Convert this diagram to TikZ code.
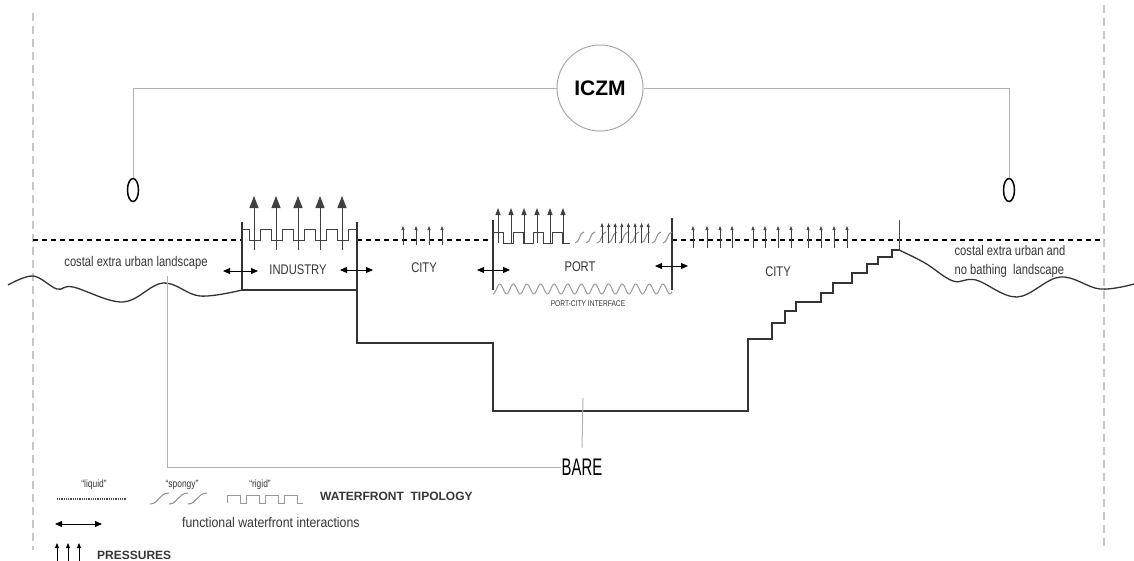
\documentclass[tikz,border=0pt]{standalone}
\usepackage{fontspec}
\setmainfont{Liberation Sans}
\newfontfamily\nrw{Liberation Sans}[FakeStretch=0.8]
\newfontfamily\nrwb{Liberation Sans}[FakeStretch=0.88]
\newfontfamily\barefont{Liberation Sans}[FakeStretch=0.62]
\usetikzlibrary{arrows.meta,shapes.geometric}
\definecolor{txt}{HTML}{363636}
\begin{document}
\begin{tikzpicture}[x=1pt,y=-1pt,
  guide/.style={draw=black!30, line width=1pt},
  frame/.style={draw=black!80, line width=1.3pt},
  vdash/.style={draw=black!22, line width=1.5pt, dash pattern=on 8pt off 5pt},
  liquid/.style={draw=black, line width=1.5pt, dash pattern=on 5pt off 4pt},
  lbl/.style={font=\nrw\fontsize{14}{19}\selectfont, text=txt, inner sep=0pt},
  dbl/.style={{Triangle[length=7pt,width=6pt]}-{Triangle[length=7pt,width=6pt]}, line width=1pt},
  bigp/.style={-{Triangle[length=12pt,width=9pt]}, line width=1pt, draw=black!75},
  midp/.style={-{Triangle[length=7pt,width=5pt]}, line width=0.9pt, draw=black!75},
  smallp/.style={-{Triangle[length=4pt,width=3pt]}, line width=0.7pt, draw=black!75},
  rigid/.style={draw=black!75, line width=1pt},
  spongy/.style={draw=black!45, line width=1pt},
]
\useasboundingbox (0,0) rectangle (1134,560);
% side dashed guides
\draw[vdash] (33,13) -- (33,550);
\draw[vdash] (1104,5) -- (1104,548);

% ICZM
\node[circle, draw=black!35, line width=1pt, minimum size=86pt, inner sep=0pt,
      font=\bfseries\fontsize{21}{24}\selectfont] (iczm) at (600,88) {ICZM};
\node[ellipse, draw=black, line width=1.5pt, minimum width=11pt, minimum height=23pt, inner sep=0pt] (ol) at (133,190) {};
\node[ellipse, draw=black, line width=1.5pt, minimum width=11pt, minimum height=23pt, inner sep=0pt] (or) at (1009,190) {};
\draw[guide] (ol.north) |- (iczm.west);
\draw[guide] (or.north) |- (iczm.east);

% liquid (dotted) waterfront
\draw[liquid] (33,240) -- (242,240);
\draw[liquid] (357,240) -- (493,240);
\draw[liquid] (672,240) -- (1104,240);

% left sea
\draw[frame] plot[smooth, tension=0.6] coordinates {(8,285) (33,276) (57,289) (73,287) (123,302) (163,283) (200,296) (242,290)};
% industry block and bare profile
\draw[frame] (242,290) -- (357,290);
\draw[frame] (242,222) -- (242,290);
\draw[frame] (357,222) -- (357,343) -- (493,343) -- (493,411) -- (748,411) -- (748,339)
  -- (772,339) -- (772,323) -- (785,323) -- (785,311) -- (796,311) -- (796,302)
  -- (821,302) -- (821,293) -- (833,293) -- (833,283) -- (852,283) -- (852,273)
  -- (867,273) -- (867,264) -- (878,264) -- (878,257) -- (892,257) -- (892,250) -- (899,250);
\draw[frame] plot[smooth, tension=0.6] coordinates {(899,250) (925,263) (953,281) (976,280) (1017,297) (1060,277) (1100,289) (1134,284)};
\draw[draw=black!70, line width=1pt] (899,220) -- (899,250);

% industry rigid waterfront
\draw[rigid] (242,229)
  \foreach \k in {0,...,4} { -- ({249+22*\k},229) -- ({249+22*\k},240) -- ({260+22*\k},240) -- ({260+22*\k},229) }
  -- (357,229);
\foreach \x in {254,276,298,320,342} \draw[bigp] (\x,250) -- (\x,196);

% port block
\draw[frame] (493,220) -- (493,290);
\draw[frame] (672,218) -- (672,290);
\draw[rigid] (493,232) -- (503,232) -- (503,243) -- (513,243) -- (513,232) -- (523,232) -- (523,243)
  -- (533,243) -- (533,232) -- (543,232) -- (543,243) -- (552,243) -- (552,232) -- (562,232) -- (562,243) -- (570,243);
\foreach \x in {498,511,524,537,550,563} \draw[midp] (\x,243) -- (\x,208);
\foreach \x in {575,586,...,664} \draw[spongy] (\x,243) .. controls ({\x+5},243) and ({\x+4},232) .. ({\x+9},232);
\foreach \x in {602,608.6,...,649} \draw[smallp] (\x,243) -- (\x,223);
\draw[draw=black!40, line width=1pt] plot[domain=493:672, samples=220] (\x,{289+5*cos((\x-493)*26.47)});

% city pressures
\foreach \x in {403,416,429,442} \draw[smallp] (\x,245) -- (\x,226);
\foreach \x in {693,707,720,732,753,765,778,791,808,821,834,847} \draw[smallp] (\x,248) -- (\x,226);

% labels
\node[lbl] (lland) at (136,263) {costal extra urban landscape};
\node[lbl] (ind) at (298,270) {INDUSTRY};
\node[lbl] (city1) at (424,268) {CITY};
\node[lbl] (port) at (580,267) {PORT};
\node[lbl] (city2) at (778,272) {CITY};
\node[lbl, align=left] (rland) at (1010,261) {costal extra urban and\\no bathing\ \ landscape};
\node[font=\nrw\fontsize{8.3}{9}\selectfont, text=txt, inner sep=0pt] (pci) at (588,304) {PORT-CITY INTERFACE};

% functional interactions
\draw[dbl] (223,271) -- (258,271);
\draw[dbl] (340,270) -- (373,270);
\draw[dbl] (477,270) -- (510,270);
\draw[dbl] (655,266) -- (688,266);

% BARE
\node[font=\barefont\fontsize{24}{26}\selectfont, inner sep=1pt] (bare) at (582,467) {BARE};
\coordinate (lsea) at (167,276);
\coordinate (bottom) at (583,398);
\draw[guide] (bare.west) -| (lsea);
\draw[guide] (bare.north) ++(0,-10) -- (bottom);

% legend
\node[font=\nrw\fontsize{10.5}{12}\selectfont, text=txt, inner sep=0pt] (lq) at (94,485) {“liquid”};
\node[font=\nrw\fontsize{10.5}{12}\selectfont, text=txt, inner sep=0pt] (sp) at (182,485) {“spongy”};
\node[font=\nrw\fontsize{10.5}{12}\selectfont, text=txt, inner sep=0pt] (rg) at (260,485) {“rigid”};
\draw[draw=black!70, line width=1.3pt, dash pattern=on 1pt off 0.8pt] (57,499) -- (127,499);
\foreach \x in {150,169,188} \draw[spongy] (\x,504) .. controls ({\x+9},504) and ({\x+9},493) .. ({\x+19},493);
\draw[draw=black!40, line width=1pt] (227,503) -- (227,495) -- (240,495) -- (240,503) -- (246,503) -- (246,495)
  -- (259,495) -- (259,503) -- (265,503) -- (265,495) -- (278,495) -- (278,503) -- (284,503) -- (284,495) -- (297,495) -- (297,503) -- (303,503);
\node[font=\bfseries\fontsize{12}{14}\selectfont, text=txt, anchor=west, inner sep=0pt] (wt) at (320,496) {WATERFRONT\ \ TIPOLOGY};
\draw[dbl] (55,524) -- (102,524);
\node[font=\nrwb\fontsize{14}{16}\selectfont, text=txt, anchor=west, inner sep=0pt] (fwi) at (182,522) {functional waterfront interactions};
\foreach \x in {57,68,79} \draw[-{Triangle[length=5pt,width=4pt]}, line width=0.9pt] (\x,562) -- (\x,543);
\node[font=\bfseries\fontsize{12}{14}\selectfont, text=txt, anchor=west, inner sep=0pt] (prs) at (97,555) {PRESSURES};
\end{tikzpicture}
\end{document}
